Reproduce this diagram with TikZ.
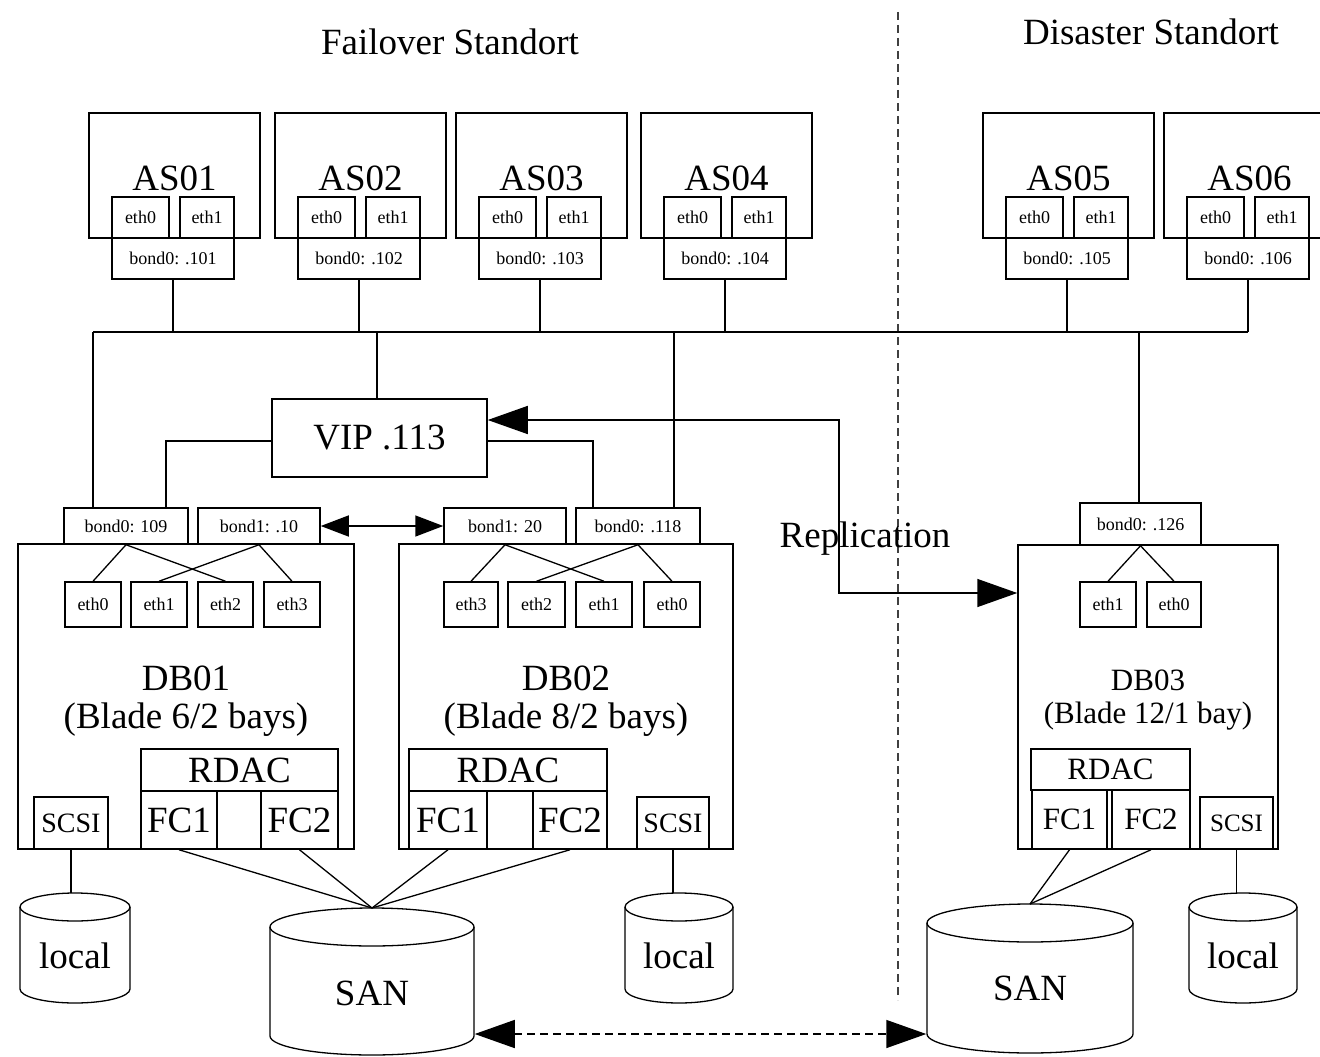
\documentclass[tikz,border=0pt]{standalone}
\usepackage{fontspec}
\setmainfont{Liberation Serif}
\usetikzlibrary{arrows.meta}

\tikzset{
  box/.style={draw, rectangle, inner sep=0pt, line width=1.5pt},
  small/.style={font=\fontsize{18}{20}\selectfont},
  big/.style={font=\fontsize{37}{40}\selectfont},
  mid/.style={font=\fontsize{31}{34}\selectfont},
  sc/.style={font=\fontsize{28}{30}\selectfont},
  scs/.style={font=\fontsize{25}{27}\selectfont},
  link/.style={line width=1.5pt},
  fanout/.style={line width=1.3pt},
  drumline/.style={line width=1.3pt},
  bigarr/.style={line width=1.5pt, >={Triangle[length=40pt,width=28pt]}, <->},
  smallarr/.style={line width=1.5pt, >={Triangle[length=28pt,width=21pt]}, <->},
  dashline/.style={dash pattern=on 8pt off 5pt},
}

% rectangle from corner (x1,y1) to (x2,y2): [style]{name}{x1}{y1}{x2}{y2}{text}
\newcommand\rbox[7][]{%
  \node[box,#1,minimum width={(#5-#3)*1pt},minimum height={(#6-#4)*1pt}]
    (#2) at ({(#3+#5)/2},{(#4+#6)/2}) {#7};}

% application server with two NICs and a bond: {index}{left x}
\newcommand\appsrv[2]{%
  \node[box, minimum width=171pt, minimum height=125pt] (as#1) at (#2+85.5,175.5) {};
  \node[big, anchor=base] (as#1-t) at (#2+85.5,190) {AS0#1};
  \node[box, small, minimum width=57pt, minimum height=41pt] (as#1-e0) at (#2+51.5,217.5) {eth0};
  \node[box, small, minimum width=54pt, minimum height=41pt] (as#1-e1) at (#2+118,217.5) {eth1};
  \node[box, small, minimum width=122pt, minimum height=41pt] (as#1-b) at (#2+84,258.5) {bond0: .10#1};}

% disk cylinder: {name}{cx}{top}{bottom}{rx}{ry}{text}{baseline}
\newcommand\drum[8]{%
  \node[inner sep=0pt, minimum width={2*#5*1pt}, minimum height={(#4-#3)*1pt}] (#1) at (#2,{(#3+#4)/2}) {};
  \draw[drumline] (#2-#5,#3+#6) -- (#2-#5,#4-#6)
    arc[start angle=180, end angle=360, x radius=#5pt, y radius=#6pt] -- (#2+#5,#3+#6);
  \draw[drumline] (#2,#3+#6) ellipse[x radius=#5pt, y radius=#6pt];
  \node[big, anchor=base] (#1-t) at (#2,#8) {#7};
  \coordinate (#1-top) at (#2,#3);}

\begin{document}
\begin{tikzpicture}[x=1pt, y=-1pt, line width=1.5pt]
\fill[white] (0,0) rectangle (1320,1057);
\useasboundingbox (0,0) rectangle (1320,1057);

% site titles and border between sites
\node[big, anchor=base] (siteA) at (450,55) {Failover Standort};
\node[big, anchor=base] (siteB) at (1151,45) {Disaster Standort};
\coordinate (div-top) at (898,12);
\coordinate (div-bot) at (898,1000);
\draw[dashline, line width=1.2pt, black!75] (div-top) -- (div-bot);

% application servers
\appsrv{1}{89}
\appsrv{2}{275}
\appsrv{3}{456}
\appsrv{4}{641}
\appsrv{5}{983}
\appsrv{6}{1164}

% virtual IP
\rbox[big]{vip}{272}{399}{487}{477}{VIP .113}

% database blades
\rbox{db1}{18}{544}{354}{849}{}
\rbox{db2}{399}{544}{733}{849}{}
\rbox{db3}{1018}{545}{1278}{849}{}

\rbox[small]{db1-b0}{64}{508}{188}{544}{bond0: 109}
\rbox[small]{db1-b1}{198}{508}{320}{544}{bond1: .10}
\rbox[small]{db2-b1}{444}{508}{566}{544}{bond1: 20}
\rbox[small]{db2-b0}{576}{508}{700}{544}{bond0: .118}
\rbox[small]{db3-b0}{1080}{503}{1201}{545}{bond0: .126}

\rbox[small]{db1-e0}{65}{582}{121}{627}{eth0}
\rbox[small]{db1-e1}{131}{582}{187}{627}{eth1}
\rbox[small]{db1-e2}{198}{582}{253}{627}{eth2}
\rbox[small]{db1-e3}{264}{582}{320}{627}{eth3}
\rbox[small]{db2-e3}{444}{582}{498}{627}{eth3}
\rbox[small]{db2-e2}{508}{582}{565}{627}{eth2}
\rbox[small]{db2-e1}{576}{582}{632}{627}{eth1}
\rbox[small]{db2-e0}{644}{582}{700}{627}{eth0}
\rbox[small]{db3-e1}{1080}{582}{1136}{627}{eth1}
\rbox[small]{db3-e0}{1147}{582}{1201}{627}{eth0}

\node[big, anchor=base] (db1-n) at (186,690) {DB01};
\node[big, anchor=base] (db1-m) at (186,728) {(Blade 6/2 bays)};
\node[big, anchor=base] (db2-n) at (566,690) {DB02};
\node[big, anchor=base] (db2-m) at (566,728) {(Blade 8/2 bays)};
\node[mid, anchor=base] (db3-n) at (1148,690) {DB03};
\node[mid, anchor=base] (db3-m) at (1148,723) {(Blade 12/1 bay)};

% multipath controllers and local SCSI
\rbox[big]{db1-rd}{141}{749}{338}{791}{RDAC}
\rbox[big]{db1-fc1}{141}{791}{217}{849}{FC1}
\rbox[big]{db1-fc2}{261}{791}{338}{849}{FC2}
\rbox[sc]{db1-sc}{34}{797}{108}{849}{SCSI}
\rbox[big]{db2-rd}{409}{749}{607}{791}{RDAC}
\rbox[big]{db2-fc1}{409}{791}{487}{849}{FC1}
\rbox[big]{db2-fc2}{533}{791}{607}{849}{FC2}
\rbox[sc]{db2-sc}{637}{797}{709}{849}{SCSI}
\rbox[mid]{db3-rd}{1031}{749}{1190}{790}{RDAC}
\rbox[mid]{db3-fc1}{1032}{790}{1107}{849}{FC1}
\rbox[mid]{db3-fc2}{1112}{790}{1190}{849}{FC2}
\rbox[scs]{db3-sc}{1200}{797}{1273}{849}{SCSI}

% storage
\drum{locL}{75}{893}{1003}{55}{14}{local}{968}
\drum{sanL}{372}{908}{1055}{102}{19}{SAN}{1005}
\drum{locM}{679}{893}{1003}{54}{14}{local}{968}
\drum{sanR}{1030}{904}{1053}{103}{19}{SAN}{1000}
\drum{locR}{1243}{893}{1003}{54}{14}{local}{968}

% LAN bus
\coordinate (bus) at (0,332);
\coordinate (j1) at (93,332);
\coordinate (j2) at (377,332);
\coordinate (j3) at (674,332);
\coordinate (j4) at (1139,332);
\draw[link] (j1) -- (as6-b.south |- bus);
\foreach \i in {1,...,6} \draw[link] (as\i-b.south) -- (as\i-b.south |- bus);
\draw[link] (j1) -- (j1 |- db1-b0.north);
\draw[link] (j2) -- (j2 |- vip.north);
\draw[link] (j3) -- (j3 |- db2-b0.north);
\draw[link] (j4) -- (j4 |- db3-b0.north);

% VIP to the cluster bonds
\coordinate (v1) at (166,441);
\coordinate (v2) at (593,441);
\draw[link] (v1 -| vip.west) -- (v1) -- (v1 |- db1-b0.north);
\draw[link] (v2 -| vip.east) -- (v2) -- (v2 |- db2-b0.north);

% bonding slaves
\draw[fanout] (db1-b0.south) -- (db1-e0.north);
\draw[fanout] (db1-b0.south) -- (db1-e2.north);
\draw[fanout] (db1-b1.south) -- (db1-e1.north);
\draw[fanout] (db1-b1.south) -- (db1-e3.north);
\draw[fanout] (db2-b1.south) -- (db2-e3.north);
\draw[fanout] (db2-b1.south) -- (db2-e1.north);
\draw[fanout] (db2-b0.south) -- (db2-e2.north);
\draw[fanout] (db2-b0.south) -- (db2-e0.north);
\draw[fanout] (db3-b0.south) -- (db3-e1.north);
\draw[fanout] (db3-b0.south) -- (db3-e0.north);

% interconnect between the two blades
\draw[smallarr] (db1-b1.east) -- (db2-b1.west);

% replication to the disaster site
\coordinate (r1) at (839,420);
\coordinate (r2) at (839,593);
\draw[bigarr] (r1 -| vip.east) -- (r1) -- (r2) -- (r2 -| db3.west);
\node[big, anchor=base] (repl) at (865,547) {Replication};

% fibre channel paths
\draw[fanout] (db1-fc1.south) -- (sanL-top);
\draw[fanout] (db1-fc2.south) -- (sanL-top);
\draw[fanout] (db2-fc1.south) -- (sanL-top);
\draw[fanout] (db2-fc2.south) -- (sanL-top);
\draw[fanout] (db3-fc1.south) -- (sanR-top);
\draw[fanout] (db3-fc2.south) -- (sanR-top);

% local disks
\draw[link] (db1-sc.south) -- (db1-sc.south |- locL-top);
\draw[link] (db2-sc.south) -- (db2-sc.south |- locM-top);
\draw[link] (db3-sc.south) -- (db3-sc.south |- locR-top);

% SAN mirroring
\coordinate (sy) at (0,1034);
\draw[bigarr, dashline] (sanL.east |- sy) -- (sanR.west |- sy);
\end{tikzpicture}
\end{document}
